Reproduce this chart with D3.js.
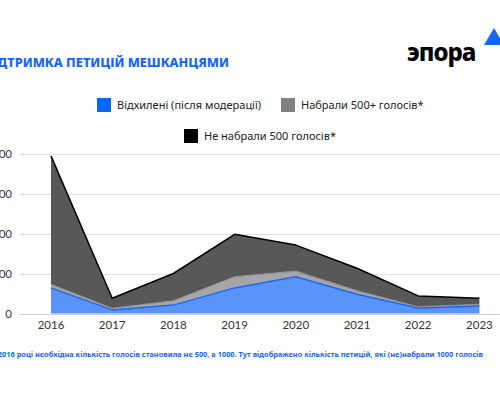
<!DOCTYPE html>
<html>
<head>
<meta charset="utf-8">
<script src="https://cdn.jsdelivr.net/npm/d3@7"></script>
<style>
  body { margin: 0; background: #fff; }
  svg { display: block; }
</style>
</head>
<body>
<svg id="chart" width="500" height="400"></svg>
<script>
/// data
var years = ["2016", "2017", "2018", "2019", "2020", "2021", "2022", "2023"];
var rejected = [64, 9, 21, 64, 92, 48, 14, 19];       // Відхилені (після модерації)
var over500  = [9, 4, 11, 28, 14, 9, 3, 4];           // Набрали 500+ голосів*
var under500 = [321, 25, 68, 106, 65, 56, 27, 15];    // Не набрали 500 голосів*
var yTicks = [0, 100, 200, 300, 400];

var seriesKeys = ["rejected", "over500", "under500"];
var legendItems = [
  {key: "rejected", text: "Відхилені (після модерації)", color: "#0a64ff", x: 97, y: 98},
  {key: "over500", text: "Набрали 500+ голосів*", color: "#808080", x: 281, y: 98},
  {key: "under500", text: "Не набрали 500 голосів*", color: "#000000", x: 184, y: 129}
];

var rows = years.map((y, i) => ({year: y, rejected: rejected[i], over500: over500[i], under500: under500[i]}));

var svg = d3.select("#chart");

/// scales
var x = d3.scalePoint().domain(years).range([51, 479.4]);
var y = d3.scaleLinear().domain([0, 400]).range([313.5, 153.5]);

// gridlines
svg.append("g")
   .selectAll("line")
   .data(yTicks)
   .enter()
   .append("line")
   .attr("x1", 20)
   .attr("x2", 500)
   .attr("y1", d => Math.round(y(d)) + 0.5)
   .attr("y2", d => Math.round(y(d)) + 0.5)
   .style("stroke", d => d === 0 ? "#cfcfcf" : "#dedede")
   .style("stroke-width", 1);

// y labels (cut at left like the original)
svg.append("g")
   .selectAll("text")
   .data(yTicks)
   .enter()
   .append("text")
   .attr("x", 12)
   .attr("y", d => y(d))
   .attr("dy", "0.35em")
   .attr("text-anchor", "end")
   .style("font-family", "Lato")
   .style("font-size", "11.5px")
   .style("fill", "#333")
   .text(d => d);

/// stacked areas
var stack = d3.stack().keys(seriesKeys);
var layers = stack(rows);

var fills = {rejected: "#5a93fa", over500: "#a6a6a6", under500: "#585858"};
var strokes = {rejected: "#1a66ff", over500: "#8f8f8f", under500: "#000000"};

var area = d3.area()
             .x(d => x(d.data.year))
             .y0(d => y(d[0]))
             .y1(d => y(d[1]));

var topLine = d3.line()
                .x(d => x(d.data.year))
                .y(d => y(d[1]));

var areaG = svg.append("g");
areaG.selectAll("path.area")
     .data(layers)
     .enter()
     .append("path")
     .attr("class", "area")
     .attr("d", area)
     .style("fill", d => fills[d.key]);

areaG.selectAll("path.edge")
     .data(layers)
     .enter()
     .append("path")
     .attr("class", "edge")
     .attr("d", topLine)
     .style("fill", "none")
     .style("stroke", d => strokes[d.key])
     .style("stroke-width", d => d.key === "over500" ? 1 : 1.5)
     .style("stroke-linejoin", "round");

// x labels
svg.append("g")
   .selectAll("text")
   .data(years)
   .enter()
   .append("text")
   .attr("x", d => x(d))
   .attr("y", 329)
   .attr("text-anchor", "middle")
   .style("font-family", "Lato")
   .style("font-size", "11.5px")
   .style("fill", "#333")
   .text(d => d);

/// title, cut at the left edge
svg.append("text")
   .attr("x", 229)
   .attr("y", 66.5)
   .attr("text-anchor", "end")
   .style("font-family", "Noto Sans")
   .style("font-weight", 800)
   .style("font-size", "12.7px")
   .style("fill", "#1464ff")
   .text("ПІДТРИМКА ПЕТИЦІЙ МЕШКАНЦЯМИ");

/// legend
var legend = svg.append("g");
legend.selectAll("rect")
      .data(legendItems)
      .enter()
      .append("rect")
      .attr("x", d => d.x)
      .attr("y", d => d.y)
      .attr("width", 14)
      .attr("height", 14)
      .style("fill", d => d.color);

legend.selectAll("text")
      .data(legendItems)
      .enter()
      .append("text")
      .attr("x", d => d.x + 20)
      .attr("y", d => d.y + 7)
      .attr("dy", "0.35em")
      .style("font-family", "Noto Sans")
      .style("font-size", "11px")
      .style("fill", "#222")
      .text(d => d.text);

/// logo
var logo = svg.append("g");
logo.append("text")
    .attr("x", 407)
    .attr("y", 61)
    .style("font-family", "Noto Sans")
    .style("font-weight", 800)
    .style("font-size", "24px")
    .style("letter-spacing", "-1px")
    .style("fill", "#000")
    .text("эпора");
logo.append("path")
    .attr("d", "M484,45 L494,28 L504,45 Z")
    .style("fill", "#1464ff");

/// footnote, cut at the left edge
svg.append("text")
   .attr("x", 483)
   .attr("y", 357)
   .attr("text-anchor", "end")
   .style("font-family", "Noto Sans")
   .style("font-weight", 700)
   .style("font-size", "7.4px")
   .style("fill", "#1464ff")
   .text("*У 2016 році необхідна кількість голосів становила не 500, а 1000. Тут відображено кількість петицій, які (не)набрали 1000 голосів");
</script>
</body>
</html>
